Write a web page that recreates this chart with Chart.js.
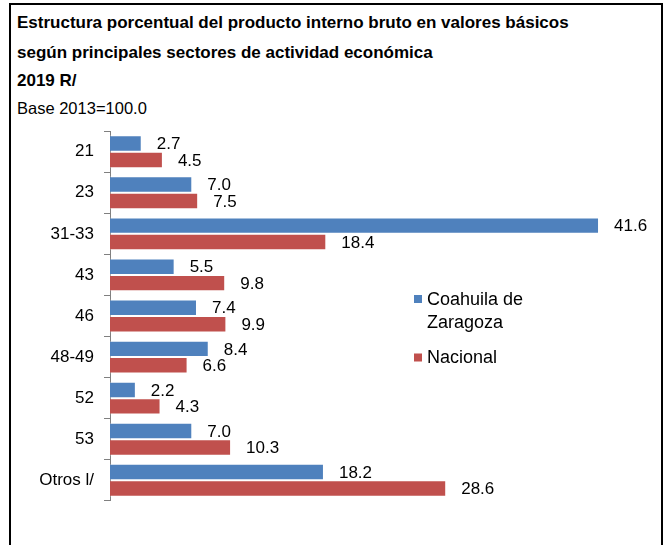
<!DOCTYPE html>
<html>
<head>
<meta charset="utf-8">
<script src="https://cdn.jsdelivr.net/npm/chart.js@4"></script>
<style>
  body { margin: 0; background: #fff; font-family: "Liberation Sans", Arial, sans-serif; }
  #frame { position: absolute; left: 9px; top: 3px; width: 650px; height: 570px; border: 2px solid #000; }
  .t { position: absolute; left: 6px; font-size: 17px; color: #000; white-space: nowrap; line-height: normal; }
  .b { font-weight: bold; }
  #wrap { position: absolute; left: 0px; top: 106px; width: 650px; height: 410px; }
</style>
</head>
<body>
<div id="frame">
  <div class="t b" style="top:8px">Estructura porcentual del producto interno bruto en valores básicos</div>
  <div class="t b" style="top:38px">según principales sectores de actividad económica</div>
  <div class="t b" style="top:66px">2019 R/</div>
  <div class="t" style="top:94px; font-size:16.5px">Base 2013=100.0</div>
  <div id="wrap"><canvas id="chart"></canvas></div>
</div>
<script>
const sectors = ['21', '23', '31-33', '43', '46', '48-49', '52', '53', 'Otros l/'];
const coahuila = [2.7, 7.0, 41.6, 5.5, 7.4, 8.4, 2.2, 7.0, 18.2];
const nacional = [4.5, 7.5, 18.4, 9.8, 9.9, 6.6, 4.3, 10.3, 28.6];
const seriesNames = [['Coahuila de', 'Zaragoza'], ['Nacional']];
const colors = ['#4F81BD', '#C0504D'];
const FONT = '"Liberation Sans", Arial, sans-serif';

// value labels to the right of each bar
const valueLabels = {
  id: 'valueLabels',
  afterDatasetsDraw(chart) {
    const ctx = chart.ctx;
    ctx.save();
    ctx.font = '17px ' + FONT;
    ctx.fillStyle = '#000';
    ctx.textBaseline = 'middle';
    chart.data.datasets.forEach((ds, i) => {
      chart.getDatasetMeta(i).data.forEach((bar, j) => {
        ctx.fillText(ds.data[j].toFixed(1), bar.x + 15, bar.y + 1);
      });
    });
    ctx.restore();
  }
};

// legend on the right side of the plot
const sideLegend = {
  id: 'sideLegend',
  afterDraw(chart) {
    const ctx = chart.ctx;
    const x = 403;
    const rows = [188, 246.5];
    ctx.save();
    ctx.font = '18px ' + FONT;
    ctx.textBaseline = 'middle';
    seriesNames.forEach((lines, i) => {
      ctx.fillStyle = colors[i];
      ctx.fillRect(x, rows[i] - 4, 8, 8);
      ctx.fillStyle = '#000';
      lines.forEach((line, k) => ctx.fillText(line, x + 13, rows[i] + 1 + k * 23));
    });
    ctx.restore();
  }
};

new Chart(document.getElementById('chart'), {
  type: 'bar',
  data: {
    labels: sectors,
    datasets: [
      { label: 'Coahuila de Zaragoza', data: coahuila, backgroundColor: colors[0] },
      { label: 'Nacional', data: nacional, backgroundColor: colors[1] }
    ]
  },
  options: {
    indexAxis: 'y',
    responsive: true,
    maintainAspectRatio: false,
    animation: false,
    layout: { padding: { top: 0, right: 22, bottom: 0, left: 0 } },
    datasets: { bar: { categoryPercentage: 0.8, barPercentage: 1.0, borderWidth: 1, borderColor: 'rgba(255,255,255,0.35)' } },
    plugins: { legend: { display: false }, tooltip: { enabled: false } },
    scales: {
      x: { display: false, min: 0, max: 45 },
      y: {
        afterFit: s => { s.width = 99; },
        border: { color: '#808080', width: 1 },
        grid: { drawOnChartArea: false, offset: true, tickLength: 6, color: '#808080' },
        ticks: { color: '#000', padding: 10, font: { size: 17, family: FONT } }
      }
    }
  },
  plugins: [valueLabels, sideLegend]
});
</script>
</body>
</html>
